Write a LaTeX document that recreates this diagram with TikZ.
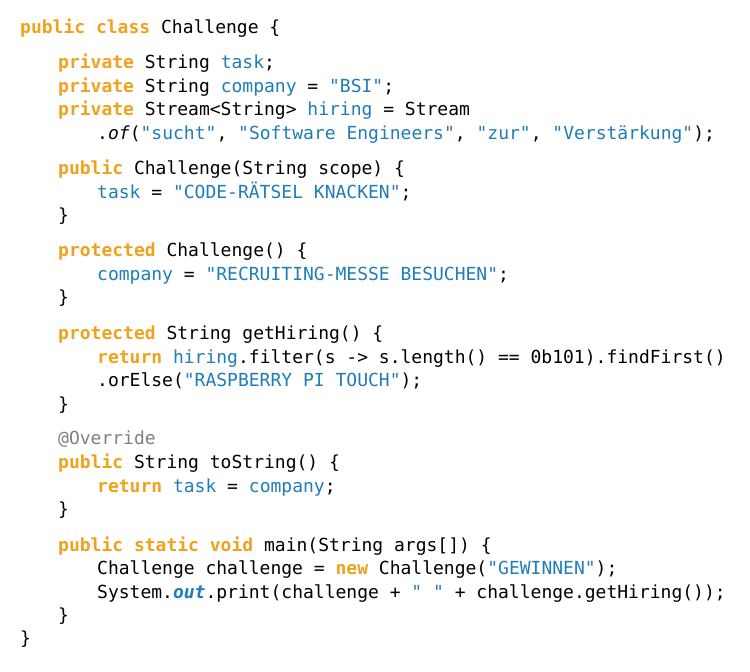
\documentclass[tikz,border=0pt]{standalone}
\usepackage{fontspec}
\setmonofont{DejaVu Sans Mono}[Ligatures=NoCommon]
\definecolor{kwc}{HTML}{F0A21C}
\definecolor{stc}{HTML}{1F7DB8}
\definecolor{anc}{HTML}{808080}
\newcommand{\kw}[1]{\textcolor{kwc}{\bfseries #1}}
\newcommand{\st}[1]{\textcolor{stc}{#1}}
\tikzset{code/.style={anchor=base west,inner sep=0pt,font=\ttfamily\fontsize{18pt}{20pt}\selectfont}}
\begin{document}
\begin{tikzpicture}[x=1pt,y=-1pt]
\useasboundingbox[fill=white] (0,0) rectangle (750,672);
\node[code] (l1) at (20,33) {\kw{public class} Challenge \{};
\node[code] (l3) at (58,68) {\kw{private} String \st{task};};
\node[code] (l4) at (58,92) {\kw{private} String \st{company} = \st{"BSI"};};
\node[code] (l5) at (58,115) {\kw{private} Stream<String> \st{hiring} = Stream};
\node[code] (l6) at (97,139) {.\textit{of}(\st{"sucht"}, \st{"Software Engineers"}, \st{"zur"}, \st{"Verstärkung"});};
\node[code] (l7) at (58,174) {\kw{public} Challenge(String scope) \{};
\node[code] (l8) at (97,198) {\st{task} = \st{"CODE-RÄTSEL KNACKEN"};};
\node[code] (l9) at (58,221) {\}};
\node[code] (l10) at (58,256) {\kw{protected} Challenge() \{};
\node[code] (l11) at (97,280) {\st{company} = \st{"RECRUITING-MESSE BESUCHEN"};};
\node[code] (l12) at (58,303) {\}};
\node[code] (l13) at (58,339) {\kw{protected} String getHiring() \{};
\node[code] (l14) at (97,363) {\kw{return} \st{hiring}.filter(s -> s.length() == 0b101).findFirst()};
\node[code] (l15) at (97,386) {.orElse(\st{"RASPBERRY PI TOUCH"});};
\node[code] (l16) at (58,410) {\}};
\node[code] (l17) at (58,444) {\textcolor{anc}{@Override}};
\node[code] (l18) at (58,468) {\kw{public} String toString() \{};
\node[code] (l19) at (97,492) {\kw{return} \st{task} = \st{company};};
\node[code] (l20) at (58,515) {\}};
\node[code] (l21) at (58,551) {\kw{public static void} main(String args[]) \{};
\node[code] (l22) at (97,574) {Challenge challenge = \kw{new} Challenge(\st{"GEWINNEN"});};
\node[code] (l23) at (97,598) {System.\textcolor{stc}{\bfseries\itshape out}.print(challenge + \st{" "} + challenge.getHiring());};
\node[code] (l24) at (58,621) {\}};
\node[code] (l25) at (20,644) {\}};
\end{tikzpicture}
\end{document}
